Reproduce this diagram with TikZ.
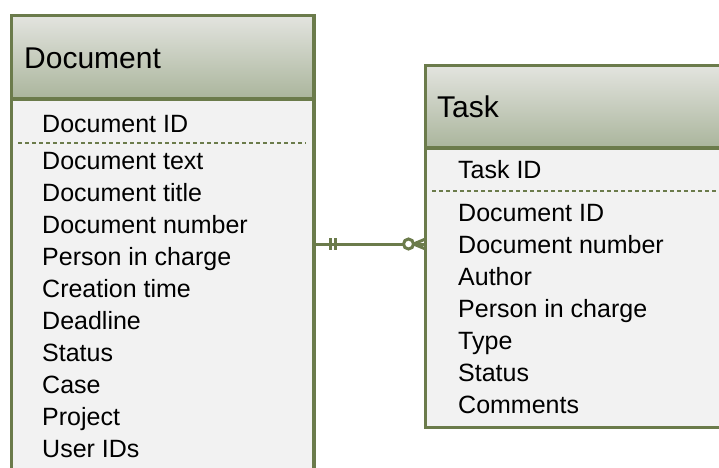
\documentclass[tikz,border=0pt]{standalone}
\usepackage{fontspec}
\setmainfont{Liberation Sans}

\definecolor{erline}{HTML}{6B7B4B}
\definecolor{erheadbot}{HTML}{AAB59C}
\definecolor{erheadtop}{HTML}{E3E4DF}
\definecolor{erbody}{HTML}{F2F2F2}

\tikzset{
  entityhead/.style={draw=erline, line width=3.5pt, top color=erheadtop, bottom color=erheadbot,
    inner sep=0pt, outer sep=0pt, anchor=north west},
  entitybody/.style={draw=erline, line width=3.5pt, fill=erbody,
    inner sep=0pt, outer sep=0pt, anchor=north west},
  headtext/.style={anchor=base west, inner sep=0pt, font=\fontsize{30}{36}\selectfont},
  field/.style={anchor=base west, inner sep=0pt, font=\fontsize{25}{30}\selectfont},
  keyline/.style={erline, line width=2pt, dash pattern=on 4pt off 3pt},
  rel/.style={erline, line width=3pt},
}

\begin{document}
\begin{tikzpicture}[x=1pt, y=-1pt]
  \useasboundingbox (0,0) rectangle (719,467);
  \clip (0,0) rectangle (719,467);

  % Document
  \node[entitybody, minimum width=302.5pt, minimum height=400pt] (docbody) at (11.5,99) {};
  \node[entityhead, minimum width=302.5pt, minimum height=83.5pt] (dochead) at (11.5,15.5) {};
  \node[headtext] (doctitle) at (24,68) {Document};
  \node[field] (dockey) at (42,132) {Document ID};
  \draw[keyline] (18,143) -- (306,143);
  \foreach \txt [count=\i from 0] in {Document text, Document title, Document number,
      Person in charge, Creation time, Deadline, Status, Case, Project, User IDs} {
    \node[field] (docf\i) at (42,{169+32*\i}) {\txt};
  }

  % Task
  \node[entitybody, minimum width=360pt, minimum height=279.5pt] (taskbody) at (425.5,148) {};
  \node[entityhead, minimum width=360pt, minimum height=82.5pt] (taskhead) at (425.5,65.5) {};
  \node[headtext] (tasktitle) at (437,117) {Task};
  \node[field] (taskkey) at (458,178) {Task ID};
  \draw[keyline] (432,191) -- (719,191);
  \foreach \txt [count=\i from 0] in {Document ID, Document number, Author,
      Person in charge, Type, Status, Comments} {
    \node[field] (taskf\i) at (458,{221+32*\i}) {\txt};
  }

  % Beziehung: genau eins -- null oder viele
  \coordinate (link) at (0,244);
  \draw[rel] (docbody.east |- link) coordinate (one) -- (taskbody.west |- link) coordinate (many);
  \draw[rel] ([xshift=16pt]one) ++(0,-6) -- ++(0,12);
  \draw[rel] ([xshift=21pt]one) ++(0,-6) -- ++(0,12);
  \draw[rel] ([xshift=-12pt]many) -- ([yshift=5pt]many);
  \draw[rel] ([xshift=-12pt]many) -- ([yshift=-5pt]many);
  \draw[rel, fill=white] ([xshift=-17pt]many) circle (5pt);
\end{tikzpicture}
\end{document}
